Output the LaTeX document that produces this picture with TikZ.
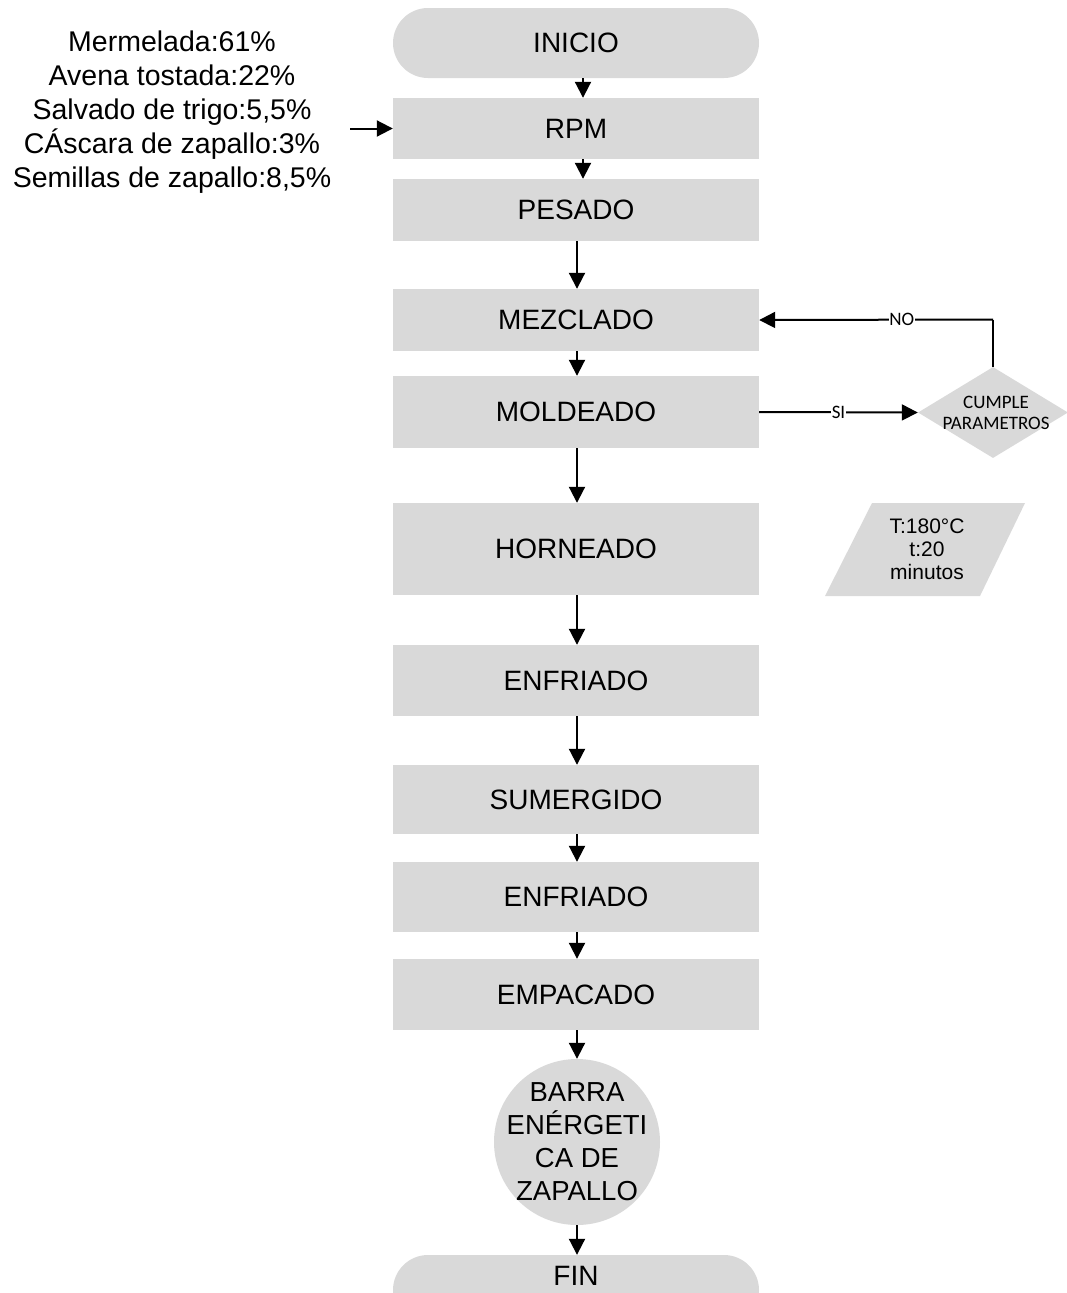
\documentclass[tikz,border=0pt]{standalone}
\usepackage{fontspec}
\setmainfont{Liberation Sans}
\newfontfamily\calib{Carlito}
\usetikzlibrary{arrows.meta,shapes.geometric,calc}
\definecolor{boxgray}{HTML}{D9D9D9}
\begin{document}
\begin{tikzpicture}[x=1pt,y=-1pt,
  proc/.style={rectangle,fill=boxgray,minimum width=366pt,inner sep=0pt,font=\fontsize{28}{34}\selectfont},
  term/.style={proc,rounded corners=35pt},
  flow/.style={line width=2pt,-{Triangle[length=16pt,width=16pt]}},
  line/.style={line width=2pt},
  lbl/.style={fill=white,inner sep=0.5pt,font=\calib\fontsize{19}{21}\selectfont}]
\useasboundingbox (0,0) rectangle (1067,1293);
\clip (0,0) rectangle (1067,1293);

% main column
\node[term,minimum height=70pt] (ini) at (576,43) {INICIO};
\node[proc,minimum height=61pt] (rpm) at (576,128.5) {RPM};
\node[proc,minimum height=62pt] (pes) at (576,210) {PESADO};
\node[proc,minimum height=62pt] (mez) at (576,320) {MEZCLADO};
\node[proc,minimum height=72pt] (mol) at (576,412) {MOLDEADO};
\node[proc,minimum height=92pt] (hor) at (576,549) {HORNEADO};
\node[proc,minimum height=71pt] (enf) at (576,680.5) {ENFRIADO};
\node[proc,minimum height=69pt] (sum) at (576,799.5) {SUMERGIDO};
\node[proc,minimum height=70pt] (enf2) at (576,897) {ENFRIADO};
\node[proc,minimum height=71pt] (emp) at (576,994.5) {EMPACADO};
\node[circle,fill=boxgray,minimum size=166pt,inner sep=-14pt,align=center,
      font=\fontsize{27.5}{33}\selectfont] (bar) at (577,1142) {BARRA\\ENÉRGETI\\CA DE\\ZAPALLO};
\node[term,minimum height=70pt] (fin) at (576,1290) {};
\node[font=\fontsize{28}{34}\selectfont,inner sep=0pt] (fint) at ($(fin.north)+(0,21)$) {FIN};

% inputs
\node[align=center,font=\fontsize{28.5}{34}\selectfont,inner sep=0pt] (ing) at (172,112)
  {Mermelada:61\%\\Avena tostada:22\%\\Salvado de trigo:5,5\%\\CÁscara de zapallo:3\%\\Semillas de zapallo:8,5\%};
\coordinate (inp) at (350,128.5);
\draw[flow] (inp) -- (rpm.west);

% decision
\node[diamond,fill=boxgray,minimum width=150pt,minimum height=91pt,inner sep=0pt] (dec) at (993,412.5) {};
\node[align=center,inner sep=0pt,font=\calib\fontsize{19}{21}\selectfont] (dect) at ($(dec.center)+(3,0.5)$) {CUMPLE\\PARAMETROS};

% oven conditions
\fill[boxgray] (872,503) -- (1025,503) -- (980,596) -- (825,596) -- cycle;
\node[align=center,inner sep=0pt,font=\fontsize{21}{23}\selectfont] (cond) at (927,549) {T:180°C\\t:20\\minutos};

% connectors
\draw[flow] ($(ini.south)+(7,0)$) -- ($(rpm.north)+(7,0)$);
\draw[flow] ($(rpm.south)+(7,0)$) -- ($(pes.north)+(7,0)$);
\draw[flow] ($(pes.south)+(1,0)$) -- ($(mez.north)+(1,0)$);
\draw[flow] ($(mez.south)+(1,0)$) -- ($(mol.north)+(1,0)$);
\draw[flow] ($(mol.south)+(1,0)$) -- ($(hor.north)+(1,0)$);
\draw[flow] ($(hor.south)+(1,0)$) -- ($(enf.north)+(1,0)$);
\draw[flow] ($(enf.south)+(1,0)$) -- ($(sum.north)+(1,0)$);
\draw[flow] ($(sum.south)+(1,0)$) -- ($(enf2.north)+(1,0)$);
\draw[flow] ($(enf2.south)+(1,0)$) -- ($(emp.north)+(1,0)$);
\draw[flow] ($(emp.south)+(1,0)$) -- (bar.north);
\draw[flow] (bar.south) -- ($(fin.north)+(1,0)$);

\draw[flow] (mol.east) -- node[lbl,pos=0.5] {SI} (dec.west);
\coordinate (nocorner) at (993,319.5);
\draw[line] (dec.north) -- (nocorner);
\draw[flow] (nocorner) -- node[lbl,pos=0.39] {NO} (mez.east);
\end{tikzpicture}
\end{document}
